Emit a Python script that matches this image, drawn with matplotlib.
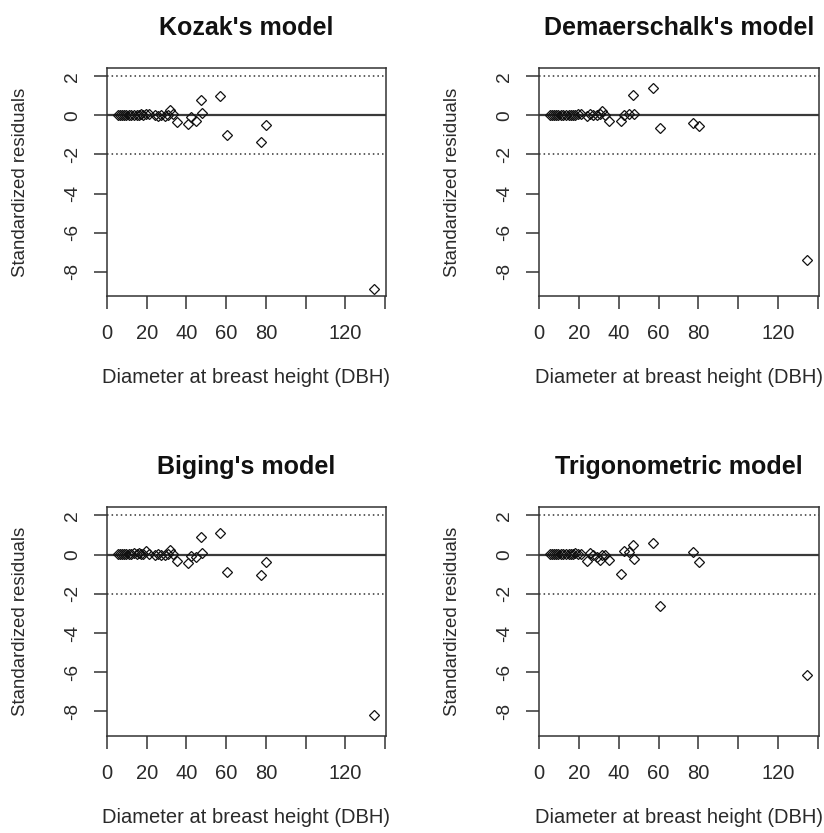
import matplotlib
matplotlib.use("Agg")
import matplotlib.pyplot as plt

plt.rcParams['font.family'] = ['Liberation Sans', 'DejaVu Sans']

# diameter at breast height, shared by all four models
dbh = [5.5, 6.5, 7.5, 8.5, 9.5, 11, 12, 13.5, 15, 16, 17, 18, 19.5,
       21, 24, 25.5, 27, 29, 30.5, 31.8, 33, 35.3, 41, 42.5, 45,
       47.3, 47.8, 57, 60.5, 77.5, 80.3, 134.7]

kozak = [0.02, 0.03, 0.02, 0.03, 0.02, 0.03, 0.02, 0.04, 0.03, 0.02, 0.05, 0.03, 0.06,
         0.05, 0.0, -0.02, 0.0, -0.03, 0.02, 0.26, 0.05, -0.34, -0.43, -0.1, -0.26,
         0.77, 0.12, 0.99, -1.0, -1.37, -0.48, -8.87]

demaerschalk = [0.02, 0.02, 0.03, 0.02, 0.03, 0.02, 0.03, 0.02, 0.03, 0.02, 0.03, 0.04, 0.05,
                0.08, -0.05, 0.08, 0.0, 0.0, 0.05, 0.22, 0.0, -0.26, -0.3, 0.0, 0.08,
                1.06, 0.08, 1.42, -0.63, -0.39, -0.56, -7.4]

biging = [0.02, 0.03, 0.02, 0.03, 0.02, 0.04, 0.03, 0.08, 0.05, 0.06, 0.03, 0.05, 0.2,
          0.02, 0.0, 0.05, -0.02, 0.0, 0.05, 0.25, 0.02, -0.3, -0.42, -0.05, -0.14,
          0.9, 0.08, 1.08, -0.88, -1.02, -0.37, -8.17]

trig = [0.02, 0.02, 0.03, 0.02, 0.03, 0.02, 0.03, 0.02, 0.03, 0.04, 0.05, 0.06, 0.05,
        0.05, -0.3, 0.1, 0.0, -0.1, -0.25, 0.0, -0.03, -0.25, -0.97, 0.2, 0.14,
        0.5, -0.2, 0.58, -2.64, 0.14, -0.37, -6.13]

titles = ["Kozak's model", "Demaerschalk's model", "Biging's model", "Trigonometric model"]
series = [kozak, demaerschalk, biging, trig]

xticks = [0, 20, 40, 60, 80, 100, 120, 140]
xticklabels = ["0", "20", "40", "60", "80", "", "120", ""]
yticks = [2, 0, -2, -4, -6, -8]
yticklabels = ["2", "0", "-2", "-4", "-6", "-8"]

W, H = 824, 833
fig = plt.figure(figsize=(W / 100, H / 100), dpi=100)

# box positions in pixels: left, top, right, bottom
boxes = [(107, 68, 386, 296), (539, 68, 819, 296),
         (107, 507, 386, 736), (539, 507, 819, 736)]

txt = '#2a2a2a'
for (l, t, r, b), title, res in zip(boxes, titles, series):
    ax = fig.add_axes([l / W, 1 - b / H, (r - l) / W, (b - t) / H])
    ax.axhline(0, color='#3a3a3a', lw=1.6, zorder=1)
    ax.axhline(2, color='#333333', lw=1.1, ls=(0, (1, 2)), zorder=1)
    ax.axhline(-2, color='#333333', lw=1.1, ls=(0, (1, 2)), zorder=1)
    ax.plot(dbh, res, ls='none', marker='D', ms=5.5, mfc='none', mec='#111111', mew=0.9, zorder=2)
    ax.set_xlim(0, 140.5)
    ax.set_ylim(-9.25, 2.43)
    ax.set_xticks(xticks)
    ax.set_xticklabels(xticklabels)
    ax.set_yticks(yticks)
    ax.set_yticklabels(yticklabels, rotation=90, va='center')
    ax.tick_params(length=9.5, width=1.1, color='#333333', labelcolor=txt)
    ax.tick_params(axis='x', pad=11, labelsize=14.5)
    ax.tick_params(axis='y', pad=9, labelsize=13.8)
    for s in ax.spines.values():
        s.set_color('#333333')
        s.set_linewidth(1.1)
    ax.set_title(title, fontsize=18, fontweight='bold', pad=24, color='#111111')
    ax.set_xlabel("Diameter at breast height (DBH)", fontsize=14.5, color=txt)
    ax.set_ylabel("Standardized residuals", fontsize=13.4, color=txt)
    ax.xaxis.set_label_coords(0.5, -72 / (b - t))
    ax.yaxis.set_label_coords(-78 / (r - l), 0.5)

fig.savefig("out.png", dpi=100)
